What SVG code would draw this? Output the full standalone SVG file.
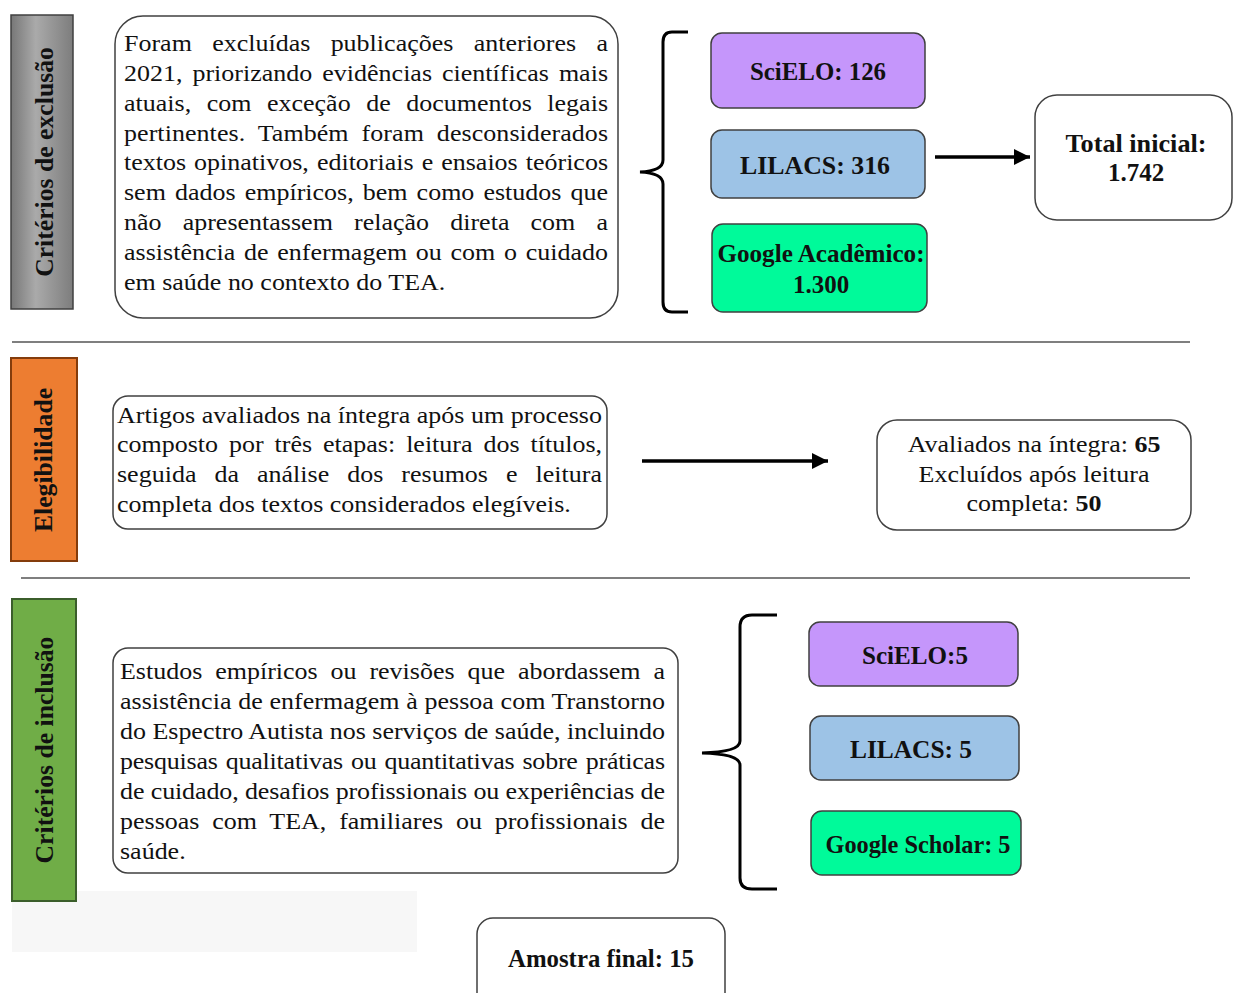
<svg xmlns="http://www.w3.org/2000/svg" width="1234" height="993" viewBox="0 0 1234 993">
<style>
.body{font-family:"Liberation Serif","Times New Roman",serif;font-size:24px;fill:#111}
.bold{font-family:"Liberation Serif","Times New Roman",serif;font-size:25px;font-weight:bold;fill:#111}
.lbl{font-family:"Liberation Serif","Times New Roman",serif;font-size:25.7px;font-weight:bold;fill:#111}
.box{fill:#fff;stroke:#404040;stroke-width:1.5}
.db{stroke:#404040;stroke-width:1.5}
.sep{stroke:#555;stroke-width:1.6}
.brace{fill:none;stroke:#000;stroke-width:3}
.arrow{stroke:#000;stroke-width:3.5;fill:none}
</style>
<defs>
<linearGradient id="grayg" x1="0" y1="0" x2="1" y2="0">
<stop offset="0" stop-color="#777"/>
<stop offset="0.4" stop-color="#aaa"/>
<stop offset="1" stop-color="#7d7d7d"/>
</linearGradient>
<marker id="ah" markerUnits="userSpaceOnUse" markerWidth="18" markerHeight="18" refX="16" refY="8" orient="auto">
<path d="M0,0 L16,8 L0,16 z" fill="#000"/>
</marker>
</defs>
<rect width="1234" height="993" fill="#fff"/>

<!-- separators -->
<line class="sep" x1="12" y1="342" x2="1190" y2="342"/>
<line class="sep" x1="21" y1="578" x2="1190" y2="578"/>
<rect x="12" y="891" width="405" height="61" fill="#f7f7f7"/>

<!-- section labels -->
<g id="label-exclusao">
<rect x="11" y="15" width="62" height="294" fill="url(#grayg)" stroke="#404040" stroke-width="1.5"/>
<text class="lbl" text-anchor="middle" transform="translate(53,162) rotate(-90)">Critérios de exclusão</text>
</g>
<g id="label-elegibilidade">
<rect x="11" y="358" width="66" height="203" fill="#ed7d31" stroke="#843c0c" stroke-width="2"/>
<text class="lbl" text-anchor="middle" transform="translate(52,460) rotate(-90)">Elegibilidade</text>
</g>
<g id="label-inclusao">
<rect x="12" y="599" width="64" height="302" fill="#70ad47" stroke="#3b5e2b" stroke-width="2"/>
<text class="lbl" text-anchor="middle" transform="translate(53,750) rotate(-90)">Critérios de inclusão</text>
</g>

<!-- exclusion text box -->
<g id="exclusao-texto">
<rect class="box" x="115" y="16" width="503" height="302" rx="28"/>
<g transform="translate(124,0) scale(1.0833,1)" class="body">
<text x="0" y="51" word-spacing="12.7" textLength="446.8" lengthAdjust="spacing">Foram excluídas publicações anteriores a</text>
<text x="0" y="81" word-spacing="3.2" textLength="446.8" lengthAdjust="spacing">2021, priorizando evidências científicas mais</text>
<text x="0" y="111" word-spacing="8.3" textLength="446.8" lengthAdjust="spacing">atuais, com exceção de documentos legais</text>
<text x="0" y="141" word-spacing="5.9" textLength="446.8" lengthAdjust="spacing">pertinentes. Também foram desconsiderados</text>
<text x="0" y="170.5" word-spacing="1.4" textLength="446.8" lengthAdjust="spacing">textos opinativos, editoriais e ensaios teóricos</text>
<text x="0" y="200.5" word-spacing="2.4" textLength="446.8" lengthAdjust="spacing">sem dados empíricos, bem como estudos que</text>
<text x="0" y="230.5" word-spacing="13.5" textLength="446.8" lengthAdjust="spacing">não apresentassem relação direta com a</text>
<text x="0" y="260" word-spacing="2.0" textLength="446.8" lengthAdjust="spacing">assistência de enfermagem ou com o cuidado</text>
<text x="0" y="290">em saúde no contexto do TEA.</text>
</g>
</g>

<!-- databases (exclusion stage) -->
<g id="scielo-126">
<rect class="db" x="711" y="33" width="214" height="75" rx="11" fill="#c596fb"/>
<text class="bold" x="818" y="80" text-anchor="middle" textLength="136" lengthAdjust="spacingAndGlyphs">SciELO: 126</text>
</g>
<g id="lilacs-316">
<rect class="db" x="711" y="130" width="214" height="68" rx="11" fill="#9dc3e6"/>
<text class="bold" x="815" y="174" text-anchor="middle" textLength="150" lengthAdjust="spacingAndGlyphs">LILACS: 316</text>
</g>
<g id="google-1300">
<rect class="db" x="712" y="224" width="215" height="88" rx="11" fill="#00fa9a"/>
<text class="bold" x="821" y="262" text-anchor="middle" textLength="207" lengthAdjust="spacingAndGlyphs">Google Acadêmico:</text>
<text class="bold" x="821" y="293" text-anchor="middle">1.300</text>
</g>
<g id="total-inicial">
<rect class="box" x="1035" y="95" width="197" height="125" rx="22"/>
<text class="bold" x="1136" y="152" text-anchor="middle" textLength="141" lengthAdjust="spacingAndGlyphs">Total inicial:</text>
<text class="bold" x="1136" y="181" text-anchor="middle">1.742</text>
</g>

<!-- eligibility -->
<g id="elegibilidade-texto">
<rect class="box" x="113" y="396" width="494" height="133" rx="15"/>
<g transform="translate(117,0) scale(1.0833,1)" class="body">
<text x="0" y="423" textLength="447.7" lengthAdjust="spacing">Artigos avaliados na íntegra após um processo</text>
<text x="0" y="452.5" word-spacing="4.1" textLength="447.7" lengthAdjust="spacing">composto por três etapas: leitura dos títulos,</text>
<text x="0" y="482" word-spacing="10.6" textLength="447.7" lengthAdjust="spacing">seguida da análise dos resumos e leitura</text>
<text x="0" y="512">completa dos textos considerados elegíveis.</text>
</g>
</g>
<g id="avaliados">
<rect class="box" x="877" y="420" width="314" height="110" rx="20"/>
<g transform="translate(1034,0) scale(1.0833,1)" class="body" text-anchor="middle">
<text x="0" y="452">Avaliados na íntegra: <tspan font-weight="bold">65</tspan></text>
<text x="0" y="482">Excluídos após leitura</text>
<text x="0" y="511">completa: <tspan font-weight="bold">50</tspan></text>
</g>
</g>

<!-- inclusion -->
<g id="inclusao-texto">
<rect class="box" x="113" y="648" width="565" height="225" rx="15"/>
<g transform="translate(120,0) scale(1.0833,1)" class="body">
<text x="0" y="679" word-spacing="5.9" textLength="503.1" lengthAdjust="spacing">Estudos empíricos ou revisões que abordassem a</text>
<text x="0" y="709" word-spacing="0.1" textLength="503.1" lengthAdjust="spacing">assistência de enfermagem à pessoa com Transtorno</text>
<text x="0" y="739" textLength="503.1" lengthAdjust="spacing">do Espectro Autista nos serviços de saúde, incluindo</text>
<text x="0" y="769" word-spacing="1.6" textLength="503.1" lengthAdjust="spacing">pesquisas qualitativas ou quantitativas sobre práticas</text>
<text x="0" y="799" textLength="503.1" lengthAdjust="spacing">de cuidado, desafios profissionais ou experiências de</text>
<text x="0" y="829" word-spacing="5.75" textLength="503.1" lengthAdjust="spacing">pessoas com TEA, familiares ou profissionais de</text>
<text x="0" y="859">saúde.</text>
</g>
</g>
<g id="scielo-5">
<rect class="db" x="809" y="622" width="209" height="64" rx="11" fill="#c596fb"/>
<text class="bold" x="915" y="664" text-anchor="middle" textLength="106" lengthAdjust="spacingAndGlyphs">SciELO:5</text>
</g>
<g id="lilacs-5">
<rect class="db" x="810" y="716" width="209" height="64" rx="11" fill="#9dc3e6"/>
<text class="bold" x="911" y="758" text-anchor="middle" textLength="122" lengthAdjust="spacingAndGlyphs">LILACS: 5</text>
</g>
<g id="google-5">
<rect class="db" x="811" y="811" width="210" height="64" rx="11" fill="#00fa9a"/>
<text class="bold" x="918" y="853" text-anchor="middle" textLength="185" lengthAdjust="spacingAndGlyphs">Google Scholar: 5</text>
</g>
<g id="amostra-final">
<rect class="box" x="477" y="918" width="248" height="100" rx="16"/>
<text class="bold" x="601" y="967" text-anchor="middle" textLength="186" lengthAdjust="spacingAndGlyphs">Amostra final: 15</text>
</g>

<!-- connectors -->
<g id="connectors">
<path class="brace" d="M688,32 L672,32 Q663,32 663,42 L663,160 Q663,171 640,172 Q663,173 663,184 L663,302 Q663,312 672,312 L688,312"/>
<path class="brace" d="M777,615 L752,615 Q740,615 740,627 L740,741 Q740,752 702,753 Q740,754 740,765 L740,878 Q740,889 752,889 L777,889"/>
<line class="arrow" x1="935" y1="157" x2="1030" y2="157" marker-end="url(#ah)"/>
<line class="arrow" x1="642" y1="461" x2="828" y2="461" marker-end="url(#ah)"/>
</g>
</svg>
